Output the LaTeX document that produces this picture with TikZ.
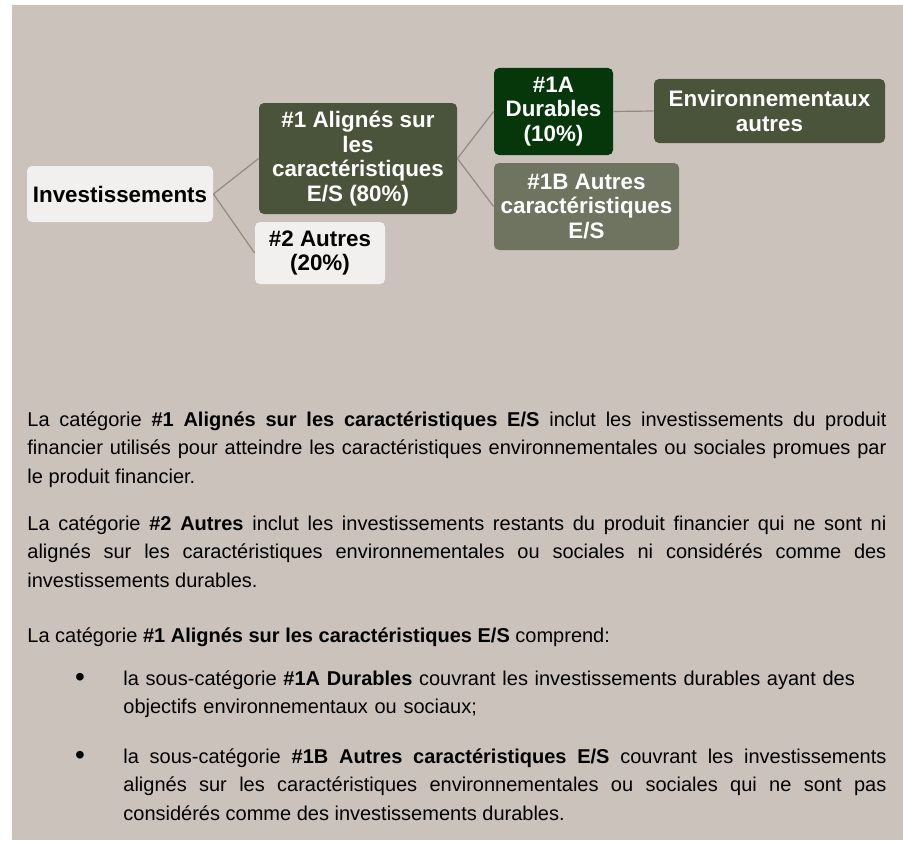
\documentclass[tikz,border=0pt]{standalone}
\usepackage{fontspec}
\setmainfont{Liberation Sans}
\usepackage{xcolor}
\definecolor{panelColor}{RGB}{203,194,188}
\definecolor{paleColor}{RGB}{242,240,238}
\definecolor{oliveColor}{RGB}{74,84,58}
\definecolor{forestColor}{RGB}{5,55,10}
\definecolor{sageColor}{RGB}{110,116,96}
\definecolor{linkColor}{RGB}{150,137,128}

\begin{document}
\begin{tikzpicture}[x=0.5pt, y=-0.5pt,
    box/.style={rounded corners=2.5pt, inner sep=1pt, align=center,
        font=\fontsize{11.2pt}{12.3pt}\selectfont\bfseries},
    link/.style={linkColor, line width=0.6pt},
    para/.style={anchor=base west, inner sep=0pt, align=justify,
        font=\fontsize{10pt}{14.35pt}\selectfont},
    dot/.style={anchor=base, inner sep=0pt, font=\fontsize{14pt}{14pt}\selectfont}]
            \useasboundingbox (0,0) rectangle (903,840);
            % Panel
            \fill[panelColor] (12,5) rectangle (903,840);

            % Investissements box
            \node[box, fill=paleColor, minimum width=93pt, minimum height=28pt] (invest) at (120,194) {Investissements};

            % #1 and #2 boxes
            \node[box, fill=oliveColor, text=white, minimum width=99pt, minimum height=55.5pt] (aligned) at (358,158.5) {\#1 Alignés sur\\les\\caractéristiques\\E/S (80\%)};
            \node[box, fill=paleColor, minimum width=65pt, minimum height=31pt] (other) at (320,253) {\#2 Autres\\(20\%)};

            % #1A and #1B boxes
            \node[box, fill=forestColor, text=white, minimum width=59.5pt, minimum height=43.5pt] (durable) at (553.5,111.5) {\#1A\\Durables\\(10\%)};
            \node[box, fill=sageColor, text=white, minimum width=92.5pt, minimum height=43.5pt] (otherES) at (586.5,206.5) {\#1B Autres\\caractéristiques\\E/S};

            % Environnementaux box
            \node[box, fill=oliveColor, text=white, minimum width=115.5pt, minimum height=32pt] (environ) at (769.5,111) {Environnementaux\\autres};

            % Links
            \draw[link] (invest.east) -- (aligned.west);
            \draw[link] (invest.east) -- (other.west);
            \draw[link] (aligned.east) -- (durable.west);
            \draw[link] (aligned.east) -- (otherES.west);
            \draw[link] (durable.east) -- (environ.west);

            % Text below
            \node[para, text width=429.5pt] (paraOne) at (27,426) {La catégorie \textbf{\#1 Alignés sur les caractéristiques E/S} inclut les investissements du produit\linebreak financier utilisés pour atteindre les caractéristiques environnementales ou sociales promues par\linebreak le produit financier.};
            \node[para, text width=429.5pt] (paraTwo) at (27,530) {La catégorie \textbf{\#2 Autres} inclut les investissements restants du produit financier qui ne sont ni\linebreak alignés sur les caractéristiques environnementales ou sociales ni considérés comme des\linebreak investissements durables.};
            \node[para, align=left] (paraThree) at (27,642) {La catégorie \textbf{\#1 Alignés sur les caractéristiques E/S} comprend:};

            % Bullets
            \node[dot] (dotA) at (80,686) {•};
            \node[para, align=left, text width=381.5pt] (itemA) at (123,685) {la sous-catégorie \textbf{\#1A Durables} couvrant les investissements durables ayant des\\objectifs environnementaux ou sociaux;};
            \node[dot] (dotB) at (80,764) {•};
            \node[para, text width=381.5pt] (itemB) at (123,763) {la sous-catégorie \textbf{\#1B Autres caractéristiques E/S} couvrant les investissements\linebreak alignés sur les caractéristiques environnementales ou sociales qui ne sont pas\linebreak considérés comme des investissements durables.};
        \end{tikzpicture}
\end{document}
